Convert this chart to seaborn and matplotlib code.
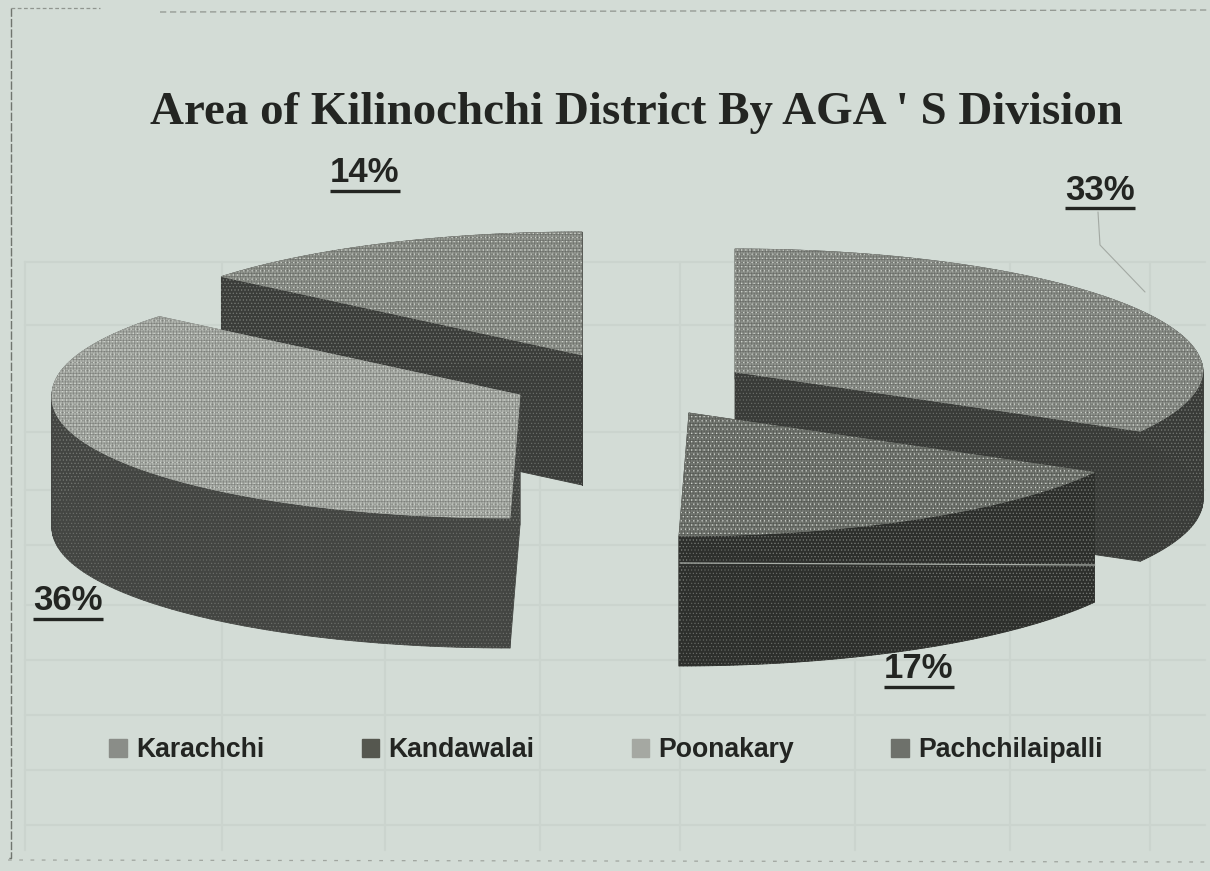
import numpy as np
import matplotlib
matplotlib.use("Agg")
import matplotlib.pyplot as plt
from matplotlib.patches import Polygon, Patch
from matplotlib.collections import PolyCollection
import seaborn as sns

# ---- data ----
divisions = ["Karachchi", "Kandawalai", "Poonakary", "Pachchilaipalli"]
shares = [33, 17, 36, 14]
title_text = "Area of Kilinochchi District By AGA ' S Division"

# ---- styling ----
BG = "#d3dcd6"
INK = "#232522"
TOP = ["#8f938d", "#757973", "#adb1ab", "#92968f"]
SIDE = ["#393b38", "#2d2f2c", "#434542", "#3b3d3a"]
HATCH = ["#6a6d68", "#565954", "#7f827d", "#6c6f6a"]
LEG = ["#8a8d88", "#55574f", "#a5a8a2", "#6e716b"]
CENTERS = [(735, 372), (689, 413), (520, 395), (582, 355)]
LABEL_POS = [(1100, 190), (919, 668), (68, 600), (365, 173)]
RX, RY, DEPTH = 468, 123, 130

sns.set_theme(style="white")
plt.rcParams["hatch.linewidth"] = 0.4
plt.rcParams["font.family"] = ["Liberation Sans", "DejaVu Sans"]

fig = plt.figure(figsize=(12.1, 8.71), dpi=100, facecolor=BG)
ax = fig.add_axes([0, 0, 1, 1], facecolor=BG)
ax.set_xlim(0, 1210)
ax.set_ylim(871, 0)
ax.axis("off")

# faint show-through grid of the page behind
for x in [25, 222, 385, 540, 680, 855, 1010, 1150]:
    ax.plot([x, x], [262, 850], color="#cbd4ce", lw=1.5, zorder=0)
for y in [262, 325, 432, 490, 545, 605, 660, 715, 770, 825]:
    ax.plot([25, 1205], [y, y], color="#cbd4ce", lw=1.5, zorder=0)

# scanned dashed frame
ax.plot([11, 11, 8], [8, 858, 858], color="#70756f", lw=1, ls=(0, (6, 1.5)), zorder=1)
ax.plot([11, 100], [8, 8], color="#90958f", lw=0.9, ls=(0, (3, 2)), zorder=1)
ax.plot([160, 1210], [12, 10], color="#90958f", lw=0.9, ls=(0, (5, 3)), zorder=1)
ax.plot([8, 1210], [860, 862], color="#a0a59f", lw=0.9, ls=(0, (3, 6)), zorder=1)
ax.plot([1098, 1100, 1145], [212, 245, 292], color="#a3a9a3", lw=0.8, zorder=1)

# exploded 3D pie built from the shares
edges = np.cumsum([0] + shares) / sum(shares) * 2 * np.pi
order = [3, 2, 0, 1]  # back to front
for z, i in enumerate(order):
    cx, cy = CENTERS[i]
    t = np.linspace(edges[i], edges[i + 1], 120)
    xs = np.r_[cx, cx + RX * np.sin(t) - 10 * np.maximum(0, -np.cos(t))]
    ys = np.r_[cy, cy - RY * np.cos(t)]
    outline = np.column_stack([xs, ys])
    shifted = outline + [0, DEPTH]
    n = len(outline)
    quads = [[outline[k], outline[(k + 1) % n], shifted[(k + 1) % n], shifted[k]]
             for k in range(n)]
    ax.add_collection(PolyCollection(quads, facecolors=SIDE[i], edgecolors=SIDE[i],
                                     linewidths=0.6, zorder=3 + 2 * z))
    ax.add_collection(PolyCollection(quads, facecolors="none", edgecolors="#70736e",
                                     hatch=".....", linewidths=0, zorder=3 + 2 * z))
    ax.add_patch(Polygon(outline, closed=True, facecolor=TOP[i], edgecolor=TOP[i],
                         lw=0.5, zorder=4 + 2 * z))
    ax.add_patch(Polygon(outline, closed=True, fill=False, edgecolor=HATCH[i],
                         hatch="++++++", lw=0, zorder=4 + 2 * z))
    ax.add_patch(Polygon(outline, closed=True, fill=False, edgecolor="#d2d6d0",
                         hatch="....", lw=0, zorder=4 + 2 * z))

ax.plot([680, 1095], [563, 565], color="#a9aea8", lw=0.9, zorder=20)

# title
ax.text(636, 113, title_text, family="Liberation Serif", weight="bold", fontsize=33.8,
        color=INK, ha="center", va="center", zorder=21)

# percent labels, underlined
renderer = fig.canvas.get_renderer()
inv = ax.transData.inverted()
for share, (lx, ly) in zip(shares, LABEL_POS):
    t = ax.text(lx, ly, f"{share}%", fontsize=25, weight="bold", color=INK,
                ha="center", va="center", zorder=21)
    bb = t.get_window_extent(renderer)
    x0, y0 = inv.transform((bb.x0, bb.y0))
    x1, _ = inv.transform((bb.x1, bb.y0))
    ax.plot([x0, x1], [y0 + 2, y0 + 2], color=INK, lw=2.4,
            solid_capstyle="butt", zorder=21)

# legend
handles = [Patch(facecolor=c, edgecolor=c) for c in LEG]
ax.legend(handles, divisions, ncol=4, loc="center",
          bbox_to_anchor=(606 / 1210, 1 - 750 / 871),
          frameon=False, handlelength=0.65, handleheight=0.65, handletextpad=0.35,
          columnspacing=3.65, prop={"family": "Liberation Sans", "weight": "bold", "size": 19.2},
          labelcolor=INK)

fig.savefig("out.png", dpi=100, facecolor=BG)
